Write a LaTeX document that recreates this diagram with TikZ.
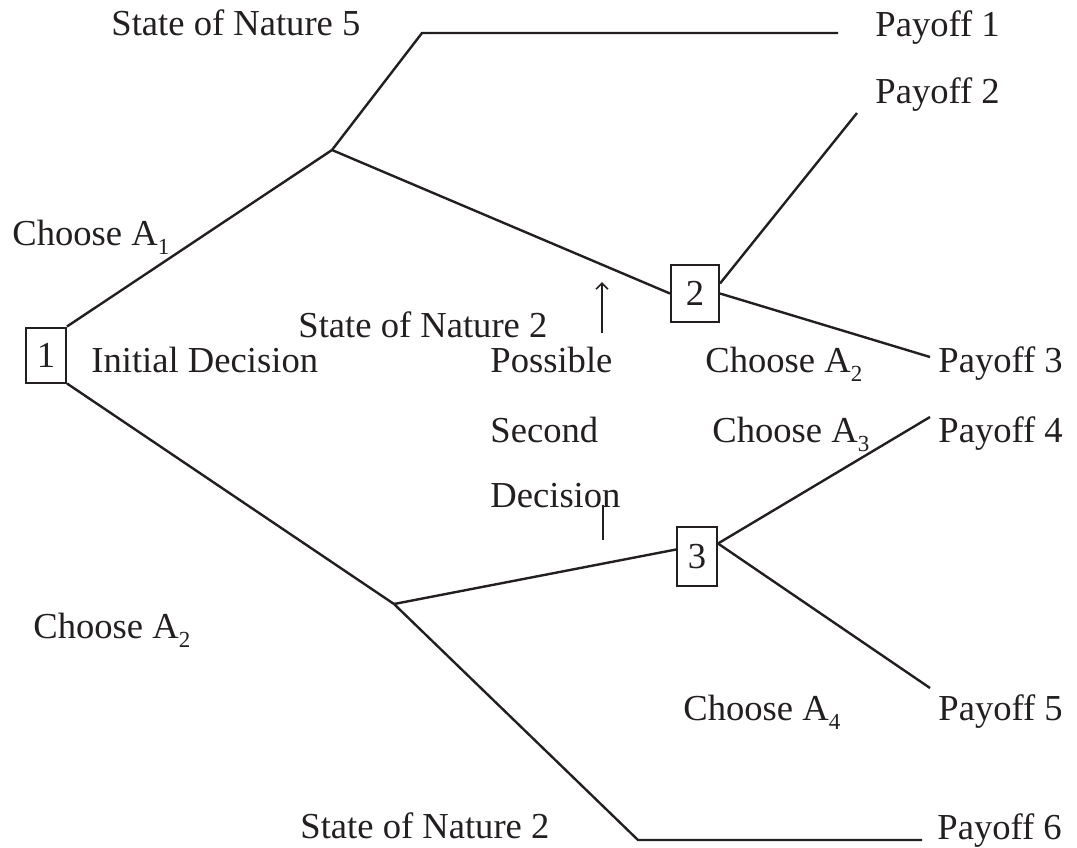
\documentclass[tikz,border=0pt]{standalone}
\usepackage{fontspec}
\setmainfont{Liberation Serif}
\usepackage{tikz}
\usetikzlibrary{arrows.meta}
\definecolor{ink}{HTML}{231F20}
\newcommand{\lowidx}[1]{\raisebox{-4.5pt}{\fontsize{11.5}{11.5}\selectfont #1}}

\begin{document}
\begin{tikzpicture}[x=0.5pt, y=-0.5pt,
	dbox/.style = {draw, rectangle, line width=1pt, inner sep=0pt, font=\fontsize{18.3}{22}\selectfont},
	lbl/.style = {anchor=base west, inner sep=0pt, font=\fontsize{18.3}{22}\selectfont},
	branch/.style = {line width=1.2pt}]
	\useasboundingbox (0,0) rectangle (1077,847);
	\begin{scope}[color=ink]
	\node[dbox, minimum width=20pt, minimum height=27.5pt] (d1) at (46,355) {1};
	
	\node[dbox, minimum width=24pt, minimum height=28.5pt] (d2) at (695,293.5) {2};
	
	\node[dbox, minimum width=20pt, minimum height=29.5pt] (d3) at (697,556.5) {3};
	
	\coordinate (j1) at (332,150);
	\coordinate (t1) at (422,33);
	\coordinate (e1) at (838,33);
	\coordinate (e2) at (857,113);
	\coordinate (e3) at (930,357);
	\coordinate (e4) at (930,417);
	\coordinate (e5) at (930,688);
	\coordinate (j3) at (394,604);
	\coordinate (t6) at (638,840);
	\coordinate (e6) at (922,840);
	
	% labels
	\node[lbl] (nat5) at (111,35) {State of Nature 5};
	\node[lbl] (pay1) at (875,36) {Payoff 1};
	\node[lbl] (pay2) at (875,103) {Payoff 2};
	\node[lbl] (pay3) at (938,372) {Payoff 3};
	\node[lbl] (pay4) at (938,442) {Payoff 4};
	\node[lbl] (pay5) at (938,720) {Payoff 5};
	\node[lbl] (pay6) at (937,839) {Payoff 6};
	\node[lbl] (chA1) at (12,245) {Choose A\lowidx{1}};
	\node[lbl] (init) at (91,372) {Initial Decision};
	\node[lbl] (nat2a) at (298,337) {State of Nature 2};
	\node[lbl] (poss) at (490,372) {Possible};
	\node[lbl] (sec) at (490,442) {Second};
	\node[lbl] (dec) at (490,507) {Decision};
	\node[lbl] (chA2a) at (705,372) {Choose A\lowidx{2}};
	\node[lbl] (chA3) at (712,442) {Choose A\lowidx{3}};
	\node[lbl] (chA2b) at (33,638) {Choose A\lowidx{2}};
	\node[lbl] (chA4) at (683,720) {Choose A\lowidx{4}};
	\node[lbl] (nat2b) at (300,838) {State of Nature 2};
	
	% branches
	\draw[branch] (d1.north east) -- (j1);
	
	\draw[branch] (j1) -- (t1) -- (e1);
	
	\draw[branch] (j1) -- (d2.west);
	
	\draw[branch] ([yshift=5pt]d2.east) -- (e2);
	
	\draw[branch] (d2.east) -- (e3);
	
	\draw[branch] (d1.south east) -- (j3);
	
	\draw[branch] (j3) -- (t6) -- (e6);
	
	\draw[branch] (j3) -- ([yshift=3.5pt]d3.west);
	
	\draw[branch] ([yshift=6.5pt]d3.east) -- (e4);
	
	\draw[branch] ([yshift=6.5pt]d3.east) -- (e5);
	
	% pointers to the second decision
	\coordinate (arrlo) at (602,333);
	\coordinate (arrhi) at (602,282);
	\coordinate (ticktop) at (603,505);
	\coordinate (tickbot) at (603,540);
	\draw[-{Straight Barb[length=3pt, width=6pt]}, line width=0.8pt] (arrlo) -- (arrhi);
	
	\draw[line width=0.8pt] (ticktop) -- (tickbot);
	\end{scope}
\end{tikzpicture}
\end{document}
